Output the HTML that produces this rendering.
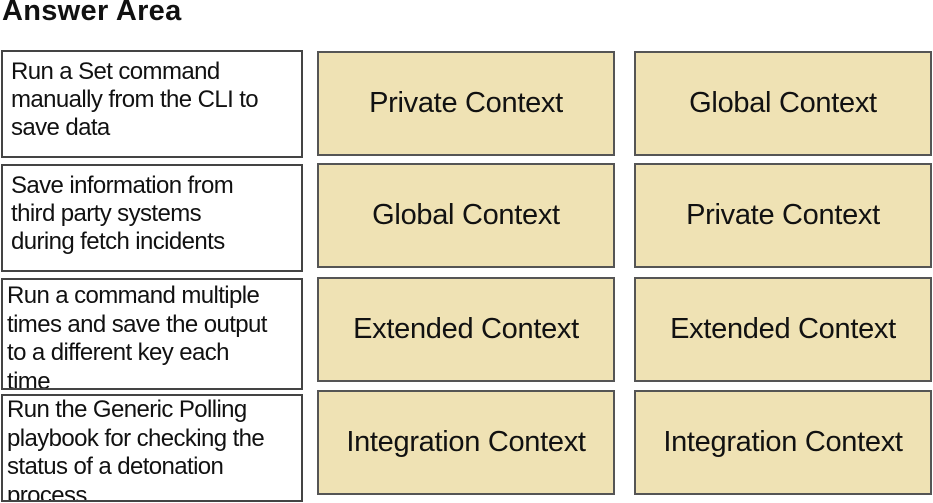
<!DOCTYPE html>
<html><head><style>
body{margin:0;width:933px;height:503px;background:#fff;position:relative;overflow:hidden;font-family:"Liberation Sans",Arial,sans-serif;}
.t{position:absolute;left:2px;top:-5px;font-weight:bold;font-size:29px;color:#111;letter-spacing:0.3px}
.l{position:absolute;left:1px;height:104px;border:2px solid #444;background:#fff;font-size:24px;line-height:28px;color:#111;padding:0 0 0 8px;width:290px;overflow:hidden;letter-spacing:-0.6px;white-space:nowrap}
.b{position:absolute;width:294px;height:101px;border:2px solid #555;background:#efe2b4;display:flex;align-items:center;justify-content:center;font-size:29px;color:#111;letter-spacing:-0.3px}
</style></head><body>
<div class="t">Answer Area</div>
<div class="l" style="top:50px;padding-top:6px;height:98px">Run a Set command<br>manually from the CLI to<br>save data</div>
<div class="l" style="top:164px;padding-top:6px;height:98px">Save information from<br>third party systems<br>during fetch incidents</div>
<div class="l" style="top:280px;line-height:28.5px;padding-left:4px;width:294px;height:106px;margin-top:-2px;padding-top:2px">Run a command multiple<br>times and save the output<br>to a different key each<br>time</div>
<div class="l" style="top:394px;line-height:28.5px;padding-left:4px;width:294px">Run the Generic Polling<br>playbook for checking the<br>status of a detonation<br>process</div>
<div class="b" style="left:317px;top:51px">Private Context</div>
<div class="b" style="left:634px;top:51px">Global Context</div>
<div class="b" style="left:317px;top:163px">Global Context</div>
<div class="b" style="left:634px;top:163px">Private Context</div>
<div class="b" style="left:317px;top:277px">Extended Context</div>
<div class="b" style="left:634px;top:277px">Extended Context</div>
<div class="b" style="left:317px;top:390px">Integration Context</div>
<div class="b" style="left:634px;top:390px">Integration Context</div>
</body></html>
